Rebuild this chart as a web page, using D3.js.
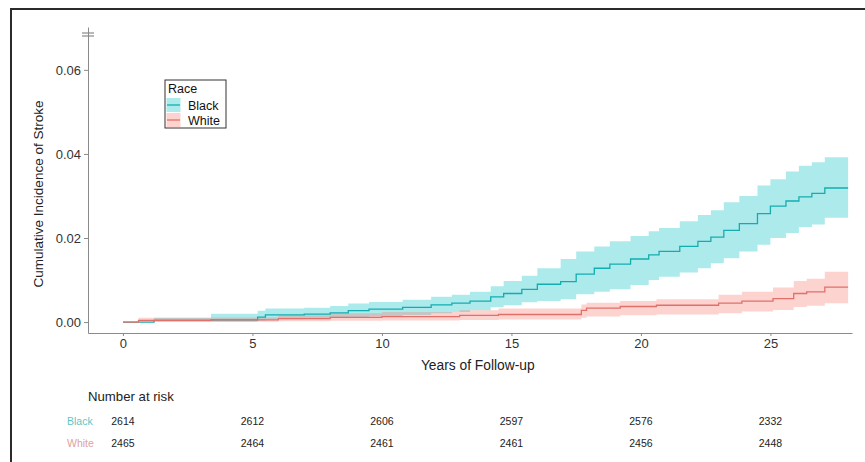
<!DOCTYPE html>
<html>
<head>
<meta charset="utf-8">
<script src="https://cdn.jsdelivr.net/npm/d3@7"></script>
<style>
  body { margin: 0; background: #fff; }
  svg { font-family: "Liberation Sans", Arial, sans-serif; display: block; }
  .axis path, .axis line { stroke: #8a8a8a; }
  .axis text { fill: #333; font-size: 13px; }
</style>
</head>
<body>
<svg width="865" height="462"></svg>
<script>
// step estimates: [time, estimate, lower, upper]
const black = [
  [0, 0, 0, 0], [1.2, 0.0004, 0.0001, 0.0010], [3.4, 0.0005, 0.0001, 0.0020],
  [5.2, 0.0012, 0.0004, 0.0027], [5.5, 0.0017, 0.0007, 0.0032], [7.0, 0.0019, 0.0008, 0.0034],
  [8.0, 0.0022, 0.0010, 0.0038], [8.7, 0.0027, 0.0012, 0.0044], [9.5, 0.0031, 0.0014, 0.0048],
  [10.8, 0.0035, 0.0017, 0.0053], [11.9, 0.0041, 0.0021, 0.0060], [12.7, 0.0045, 0.0024, 0.0065],
  [13.4, 0.0050, 0.0028, 0.0072], [14.2, 0.0060, 0.0035, 0.0085], [14.7, 0.0068, 0.0040, 0.0098],
  [15.4, 0.0078, 0.0047, 0.0110], [16.0, 0.0090, 0.0050, 0.0128], [16.9, 0.0096, 0.0054, 0.0150],
  [17.5, 0.0114, 0.0066, 0.0168], [18.2, 0.0128, 0.0072, 0.0180], [18.8, 0.0138, 0.0078, 0.0192],
  [19.6, 0.0150, 0.0088, 0.0205], [20.3, 0.0160, 0.0100, 0.0216], [20.7, 0.0168, 0.0108, 0.0224],
  [21.5, 0.0180, 0.0118, 0.0240], [22.2, 0.0192, 0.0128, 0.0255], [22.7, 0.0202, 0.0140, 0.0266],
  [23.2, 0.0218, 0.0152, 0.0285], [23.8, 0.0234, 0.0168, 0.0300], [24.5, 0.0258, 0.0184, 0.0325],
  [25.0, 0.0276, 0.0200, 0.0340], [25.6, 0.0288, 0.0212, 0.0358], [26.1, 0.0298, 0.0226, 0.0372],
  [26.6, 0.0306, 0.0232, 0.0380], [27.1, 0.0319, 0.0248, 0.0392], [28.0, 0.0319, 0.0248, 0.0392]
]
const white = [
  [0, 0, 0, 0], [0.6, 0.0004, 0.0001, 0.0010], [3.4, 0.0005, 0.0001, 0.0011],
  [6.0, 0.0008, 0.0002, 0.0016], [8.0, 0.0011, 0.0003, 0.0021], [10.0, 0.0013, 0.0004, 0.0024],
  [13.0, 0.0016, 0.0005, 0.0028], [14.5, 0.0018, 0.0006, 0.0032], [17.7, 0.0028, 0.0010, 0.0042],
  [17.9, 0.0033, 0.0013, 0.0046], [19.2, 0.0037, 0.0016, 0.0050], [20.6, 0.0040, 0.0018, 0.0054],
  [23.0, 0.0045, 0.0021, 0.0065], [23.9, 0.0050, 0.0025, 0.0072], [25.1, 0.0056, 0.0029, 0.0082],
  [25.9, 0.0068, 0.0036, 0.0098], [26.4, 0.0072, 0.0039, 0.0103], [27.1, 0.0083, 0.0045, 0.0120],
  [28.0, 0.0083, 0.0045, 0.0120]
]
const groups = ["Black", "White"]
const riskTimes = [0, 5, 10, 15, 20, 25]
const riskBlack = [2614, 2612, 2606, 2597, 2576, 2332]
const riskWhite = [2465, 2464, 2461, 2461, 2456, 2448]
const yTicks = [0, 0.02, 0.04, 0.06]

const svg = d3.select("svg")
const margin = {top: 27, left: 88, right: 13, bottom: 129}
const width = 865 - margin.left - margin.right,
      height = 462 - margin.top - margin.bottom

const x = d3.scaleLinear().domain([-1.35, 28.15]).range([margin.left, margin.left + width])
const y = d3.scaleLinear().domain([-0.0026, 0.0702]).range([margin.top + height, margin.top])

const lineCol = d3.scaleOrdinal().domain(groups).range(["#14adaf", "#e0716a"])
const fillCol = d3.scaleOrdinal().domain(groups).range(["#00BFC4", "#F8766D"])
const textCol = d3.scaleOrdinal().domain(groups).range(["#5cc6c8", "#e0a29e"])

// outer frame (left and top edges)
svg.append("path").attr("d", "M11,462V9H865").attr("fill", "none").attr("stroke", "#2b2b2b").attr("stroke-width", 2)

const area = d3.area().curve(d3.curveStepAfter)
  .x(d => x(d[0])).y0(d => y(d[2])).y1(d => y(d[3]))
const line = d3.line().curve(d3.curveStepAfter)
  .x(d => x(d[0])).y(d => y(d[1]))

const series = [{id: "Black", values: black}, {id: "White", values: white}]

svg.selectAll(".band").data(series).enter().append("path")
  .attr("class", "band")
  .attr("d", d => area(d.values))
  .attr("fill", d => fillCol(d.id))
  .attr("fill-opacity", 0.32)

svg.selectAll(".curve").data(series).enter().append("path")
  .attr("class", "curve")
  .attr("d", d => line(d.values))
  .attr("fill", "none")
  .attr("stroke", d => lineCol(d.id))
  .attr("stroke-width", 1.3)

// axes
svg.append("g").attr("class", "axis")
  .attr("transform", "translate(0," + (margin.top + height) + ")")
  .call(d3.axisBottom(x).tickValues(riskTimes).tickSize(3).tickPadding(3).tickSizeOuter(0))

svg.append("g").attr("class", "axis")
  .attr("transform", "translate(" + margin.left + ",0)")
  .call(d3.axisLeft(y).tickValues(yTicks).tickFormat(d3.format(".2f")).tickSize(4).tickPadding(3).tickSizeOuter(0))

svg.selectAll(".axis .domain").attr("stroke", "#8a8a8a")

// axis break mark at top of y axis
;[33, 36].forEach(yy => {
  svg.append("line").attr("x1", margin.left - 6).attr("x2", margin.left + 6)
    .attr("y1", yy).attr("y2", yy).attr("stroke", "#8a8a8a").attr("stroke-width", 1.2)
})

svg.append("text")
  .attr("transform", "translate(43," + (margin.top + 167) + ") rotate(-90)")
  .attr("text-anchor", "middle").attr("font-size", 13.5).attr("fill", "#222")
  .text("Cumulative Incidence of Stroke")

svg.append("text")
  .attr("x", x(13.7)).attr("y", 370)
  .attr("text-anchor", "middle").attr("font-size", 13.8).attr("fill", "#222")
  .text("Years of Follow-up")

// legend
const lg = svg.append("g").attr("transform", "translate(165,80)")
lg.append("rect").attr("width", 61).attr("height", 48).attr("fill", "#fff").attr("stroke", "#333")
lg.append("text").attr("x", 3).attr("y", 13).attr("font-size", 12.5).attr("fill", "#111").text("Race")
groups.forEach((gname, i) => {
  const ky = 18 + i * 15
  lg.append("rect").attr("x", 1.5).attr("y", ky).attr("width", 14).attr("height", 14)
    .attr("fill", fillCol(gname)).attr("fill-opacity", 0.32)
  lg.append("line").attr("x1", 2).attr("x2", 15).attr("y1", ky + 7).attr("y2", ky + 7)
    .attr("stroke", lineCol(gname)).attr("stroke-width", 1.3)
  lg.append("text").attr("x", 23).attr("y", ky + 12).attr("font-size", 12.5).attr("fill", "#111").text(gname)
})

// number at risk table
svg.append("text").attr("x", 88).attr("y", 401).attr("font-size", 13.2).attr("fill", "#222").text("Number at risk")

const rows = [{id: "Black", n: riskBlack, yy: 425}, {id: "White", n: riskWhite, yy: 447}]
rows.forEach(r => {
  svg.append("text").attr("x", 67).attr("y", r.yy).attr("font-size", 10.5)
    .attr("fill", textCol(r.id)).text(r.id)
  svg.selectAll(null).data(r.n).enter().append("text")
    .attr("x", (d, i) => x(riskTimes[i])).attr("y", r.yy)
    .attr("text-anchor", "middle").attr("font-size", 10.5).attr("fill", "#222")
    .text(d => d)
})
</script>
</body>
</html>
